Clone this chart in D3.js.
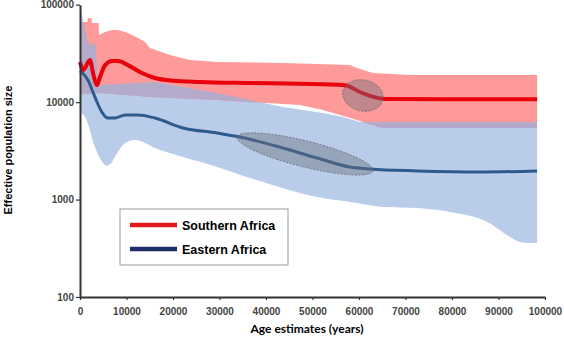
<!DOCTYPE html>
<html lang="en">
<head>
    <meta charset="UTF-8">
    <title>Effective population size</title>
    <style>
        body { margin: 0; background: #fff; }
        text { font-family: "Liberation Sans", Arial, sans-serif; }
    </style>
</head>
<body>
    <svg id="chart" width="564" height="339"></svg>

<script src="https://cdn.jsdelivr.net/npm/d3@7"></script>
<script>

    // [years, Ne]
    let southMedian = [[0,25800],[650,21400],[2150,27000],[2800,19900],[3650,15000],[4300,18100],[5400,24000],
        [6900,26400],[8200,26400],[10300,24000],[13300,19900],[16100,17700],[20000,16600],[25800,16100],
        [36600,15700],[47300,15400],[57000,14900],[60200,12700],[62350,11600],[65600,10800],[80000,10700],[98300,10700]]

    let southUpper = [[0,66500],[1600,66500],[1650,73000],[2500,73000],[2550,64900],[4000,64900],[4100,48900],
        [5400,52500],[6900,55000],[8200,55000],[9700,52500],[11200,48900],[12500,45500],[14000,41400],
        [15050,36000],[19350,30500],[23650,27000],[29500,25800],[43650,25200],[58050,24000],[59550,22400],
        [63000,19900],[71000,19000],[98300,19000]]

    let southLower = [[0,12000],[4300,12400],[15050,11300],[29500,10500],[36600,10000],[47300,9350],
        [52250,8300],[55900,7380],[59550,6550],[62350,5900],[65000,5430],[98300,5430]]

    let eastMedian = [[0,20900],[1700,16900],[3200,11300],[4700,7900],[6000,6870],[7500,6870],[9700,7380],
        [12500,7380],[16100,6870],[22150,5430],[29500,4820],[34400,4380],[43650,3380],[51000,2670],
        [58050,2160],[62350,2060],[72500,1970],[86700,1920],[98300,1970]]

    let eastUpper = [[0,98000],[1700,40400],[3400,38600],[3800,15000],[16100,16100],[29500,12400],
        [36600,10500],[43650,8900],[52250,7730],[56550,7040],[60200,6250],[98300,6250]]

    let eastLower = [[0,7900],[1100,7040],[3200,3460],[4600,2500],[5600,2230],[6500,2300],[7500,2730],[9700,3800],
        [11800,4080],[14000,3800],[16100,3380],[22150,2730],[29500,2160],[36600,1660],[43650,1310],
        [51000,1060],[58050,944],[65200,838],[72500,818],[79600,745],[86700,617],[92500,413],[94600,367],[98300,358]]

    // highlighted periods: [centre year, centre Ne]
    let highlights = [[60850,11700],[48400,2940]]

    let xTicks = [0,10000,20000,30000,40000,50000,60000,70000,80000,90000,100000]
    let yTicks = [100,1000,10000,100000]

    let svg = d3.select("#chart")

    let x = d3.scaleLinear().domain([0,100000]).range([80,545])
    let y = d3.scaleLog().domain([100,100000]).range([297,4.7])

    let line = d3.line()
        .x(d => x(d[0]))
        .y(d => y(d[1]))
        .curve(d3.curveMonotoneX)

    let edge = d3.line()
        .x(d => x(d[0]))
        .y(d => y(d[1]))

    let softEdge = d3.line()
        .x(d => x(d[0]))
        .y(d => y(d[1]))
        .curve(d3.curveCatmullRom)

    function band(upper, lower, smoothLower) {
        let bottom = (smoothLower ? softEdge : edge)(lower.slice().reverse())
        return edge(upper) + "L" + bottom.slice(1) + "Z"
    }

    let southBand = band(southUpper, southLower, false)
    let eastBand = band(eastUpper, eastLower, true)

    svg.append("clipPath").attr("id", "southClip")
        .append("path").attr("d", southBand)

    svg.append("path")
        .attr("d", eastBand)
        .attr("fill", "#b9cdeb")

    svg.append("path")
        .attr("d", southBand)
        .attr("fill", "#ff9a9a")

    // overlap of the two intervals
    svg.append("path")
        .attr("d", eastBand)
        .attr("clip-path", "url(#southClip)")
        .attr("fill", "#b4aacb")

    svg.append("path")
        .attr("d", line(southMedian))
        .attr("fill", "none")
        .attr("stroke", "#e8000a")
        .attr("stroke-width", 4)

    svg.append("path")
        .attr("d", line(eastMedian))
        .attr("fill", "none")
        .attr("stroke", "#2f5a8c")
        .attr("stroke-width", 3)

    let shapes = [{rx: 20.5, ry: 15.5, rot: 12}, {rx: 70, ry: 13, rot: 14}]

    svg.selectAll(".hl")
        .data(highlights)
        .enter()
        .append("ellipse")
        .attr("class", "hl")
        .attr("cx", 0).attr("cy", 0)
        .attr("rx", (d, i) => shapes[i].rx)
        .attr("ry", (d, i) => shapes[i].ry)
        .attr("transform", (d, i) => `translate(${x(d[0])},${y(d[1])}) rotate(${shapes[i].rot})`)
        .attr("fill", "rgba(105,110,122,0.42)")
        .attr("stroke", "#6b6b6b")
        .attr("stroke-width", 0.8)
        .attr("stroke-dasharray", "2,1.5")

    let xAxis = d3.axisBottom(x)
        .tickValues(xTicks)
        .tickFormat(d3.format("d"))
        .tickSize(3)
        .tickSizeOuter(0)
        .tickPadding(8)

    let yAxis = d3.axisLeft(y)
        .tickValues(yTicks)
        .tickFormat(d3.format("d"))
        .tickSize(4)
        .tickSizeOuter(0)
        .tickPadding(2)

    let gx = svg.append("g").attr("transform", "translate(0,297)").call(xAxis)
    let gy = svg.append("g").attr("transform", "translate(80,0)").call(yAxis)

    for (let g of [gx, gy]) {
        g.select(".domain").attr("stroke", "#333").attr("stroke-width", 2)
        g.selectAll(".tick line").attr("stroke", "#333").attr("stroke-width", 1.2)
        g.selectAll(".tick text")
            .attr("fill", "#444")
            .style("font-family", "'Liberation Sans', Arial, sans-serif")
            .style("font-weight", "bold")
            .style("font-size", "10px")
    }

    svg.append("text")
        .attr("transform", "translate(12,150) rotate(-90)")
        .attr("text-anchor", "middle")
        .style("font-weight", "bold")
        .style("font-size", "11px")
        .text("Effective population size")

    svg.append("text")
        .attr("x", 307).attr("y", 333)
        .attr("text-anchor", "middle")
        .style("font-family", "Lato, sans-serif")
        .style("font-weight", "bold")
        .style("font-size", "12px")
        .text("Age estimates (years)")

    // legend
    let legend = svg.append("g").attr("transform", "translate(120,209)")
    legend.append("rect")
        .attr("width", 168).attr("height", 56)
        .attr("fill", "#fff")
        .attr("stroke", "#999")

    let series = [["Southern Africa", "#e31a1c"], ["Eastern Africa", "#1c2f6b"]]
    let item = legend.selectAll(".item")
        .data(series)
        .enter()
        .append("g")
        .attr("transform", (d, i) => `translate(0,${16 + i * 24})`)

    item.append("line")
        .attr("x1", 10).attr("x2", 57)
        .attr("stroke", d => d[1])
        .attr("stroke-width", 4.5)

    item.append("text")
        .attr("x", 62).attr("y", 5)
        .style("font-weight", "bold")
        .style("font-size", "12.5px")
        .text(d => d[0])

</script>
</body>
</html>
